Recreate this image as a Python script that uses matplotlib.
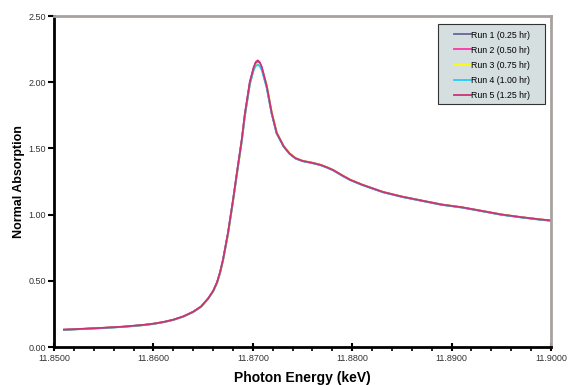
import matplotlib
matplotlib.use("Agg")
import matplotlib.pyplot as plt
from matplotlib.patches import Rectangle
from matplotlib.ticker import MultipleLocator, FormatStrFormatter

plt.rcParams['font.family'] = ['Liberation Sans', 'DejaVu Sans']

# photon energy (keV), shared by all runs
energy = [11.8510, 11.8530, 11.8550, 11.8570, 11.8590, 11.8600, 11.8610, 11.8620,
          11.8630, 11.8640, 11.8648, 11.8655, 11.8660, 11.8664, 11.8667, 11.8670,
          11.8675, 11.8680, 11.8684, 11.8689, 11.8692, 11.8697, 11.8701, 11.8703,
          11.8705, 11.8707, 11.8709, 11.8714, 11.8719, 11.8724, 11.8731, 11.8737,
          11.8743, 11.8750, 11.8760, 11.8768, 11.8775, 11.8781, 11.8790, 11.8798,
          11.8810, 11.8831, 11.8850, 11.8870, 11.8890, 11.8910, 11.8932, 11.8950,
          11.8970, 11.8990, 11.9000]

run1 = [0.130, 0.137, 0.144, 0.153, 0.166, 0.175, 0.188, 0.205, 0.230, 0.265,
        0.305, 0.365, 0.420, 0.485, 0.560, 0.655, 0.855, 1.100, 1.310, 1.565,
        1.750, 1.990, 2.105, 2.138, 2.150, 2.137, 2.105, 1.965, 1.765, 1.615,
        1.515, 1.460, 1.425, 1.405, 1.390, 1.375, 1.355, 1.335, 1.295, 1.262,
        1.225, 1.170, 1.135, 1.105, 1.075, 1.055, 1.025, 1.000, 0.980, 0.962,
        0.955]
run2 = [0.131, 0.137, 0.145, 0.153, 0.166, 0.176, 0.188, 0.206, 0.230, 0.266,
        0.306, 0.366, 0.421, 0.487, 0.562, 0.657, 0.858, 1.103, 1.313, 1.570,
        1.757, 1.998, 2.112, 2.148, 2.160, 2.146, 2.112, 1.970, 1.768, 1.617,
        1.517, 1.461, 1.426, 1.406, 1.391, 1.376, 1.356, 1.336, 1.296, 1.263,
        1.226, 1.171, 1.136, 1.106, 1.076, 1.055, 1.026, 1.001, 0.980, 0.963,
        0.955]
run3 = [0.130, 0.136, 0.144, 0.152, 0.165, 0.175, 0.187, 0.204, 0.229, 0.264,
        0.303, 0.362, 0.416, 0.480, 0.553, 0.646, 0.845, 1.090, 1.300, 1.555,
        1.742, 1.982, 2.098, 2.131, 2.142, 2.133, 2.108, 1.975, 1.780, 1.625,
        1.520, 1.463, 1.427, 1.407, 1.392, 1.377, 1.357, 1.337, 1.297, 1.264,
        1.226, 1.171, 1.136, 1.106, 1.076, 1.056, 1.026, 1.001, 0.981, 0.963,
        0.956]
run4 = [0.129, 0.136, 0.143, 0.152, 0.165, 0.174, 0.187, 0.204, 0.229, 0.264,
        0.304, 0.364, 0.419, 0.484, 0.559, 0.653, 0.852, 1.096, 1.306, 1.560,
        1.744, 1.982, 2.095, 2.122, 2.132, 2.121, 2.092, 1.955, 1.760, 1.612,
        1.513, 1.458, 1.423, 1.403, 1.388, 1.373, 1.353, 1.333, 1.293, 1.260,
        1.223, 1.168, 1.133, 1.103, 1.073, 1.053, 1.023, 0.998, 0.978, 0.960,
        0.953]
run5 = [0.131, 0.138, 0.145, 0.154, 0.167, 0.176, 0.189, 0.206, 0.231, 0.266,
        0.306, 0.366, 0.422, 0.488, 0.563, 0.658, 0.860, 1.105, 1.315, 1.572,
        1.760, 2.002, 2.115, 2.152, 2.165, 2.151, 2.115, 1.972, 1.770, 1.618,
        1.517, 1.461, 1.426, 1.406, 1.391, 1.376, 1.356, 1.336, 1.296, 1.263,
        1.226, 1.171, 1.136, 1.106, 1.076, 1.056, 1.026, 1.001, 0.981, 0.963,
        0.956]

runs = [run1, run2, run3, run4, run5]
labels = ["Run 1 (0.25 hr)", "Run 2 (0.50 hr)", "Run 3 (0.75 hr)",
          "Run 4 (1.00 hr)", "Run 5 (1.25 hr)"]
colors = ["#666699", "#FF33AA", "#FFFF00", "#22CCFF", "#CC3377"]

W, H = 569, 385
fig = plt.figure(figsize=(W / 100, H / 100), dpi=100)
ax = fig.add_axes([0.0949, 0.0987, 0.8735, 0.8597])

for r, lab, c in zip(runs, labels, colors):
    ax.plot(energy, r, color=c, lw=1.3, label=lab)

ax.set_xlim(11.85, 11.90)
ax.set_ylim(0, 2.5)
ax.xaxis.set_major_locator(MultipleLocator(0.01))
ax.xaxis.set_minor_locator(MultipleLocator(0.002))
ax.xaxis.set_major_formatter(FormatStrFormatter('%.4f'))
ax.yaxis.set_major_locator(MultipleLocator(0.5))
ax.yaxis.set_major_formatter(FormatStrFormatter('%.2f'))

ax.tick_params(axis='x', which='major', direction='inout', length=6, width=1.5,
               labelsize=6.5, labelcolor='#333333', pad=2)
ax.tick_params(axis='x', which='minor', direction='out', length=3, width=1.2)
ax.tick_params(axis='y', which='major', direction='out', length=4, width=1.5,
               labelsize=6.5, labelcolor='#333333', pad=2)

for s in ['left', 'bottom']:
    ax.spines[s].set_color('black')
    ax.spines[s].set_linewidth(2)
for s in ['top', 'right']:
    ax.spines[s].set_color('#A8A29F')
    ax.spines[s].set_linewidth(2)

ax.set_xlabel("Photon Energy (keV)", fontsize=10, fontweight='bold', labelpad=6)
ax.set_ylabel("Normal Absorption", fontsize=9, fontweight='bold', labelpad=2)

# legend box (Excel style, wider padding on the left)
box = Rectangle((438 / W, 1 - 104 / H), 107 / W, 80 / H, transform=fig.transFigure,
                facecolor='#D5DFDF', edgecolor='#333333', lw=0.8, zorder=5,
                clip_on=False)
ax.add_patch(box)
leg = ax.legend(loc='upper left', bbox_to_anchor=(454 / W, 1 - 30.5 / H),
                bbox_transform=fig.transFigure, fontsize=6.3, frameon=False,
                borderpad=0, labelspacing=0.69, handlelength=1.9,
                handletextpad=0.05, borderaxespad=0)
leg.set_zorder(6)

fig.savefig("out.png", dpi=100)
